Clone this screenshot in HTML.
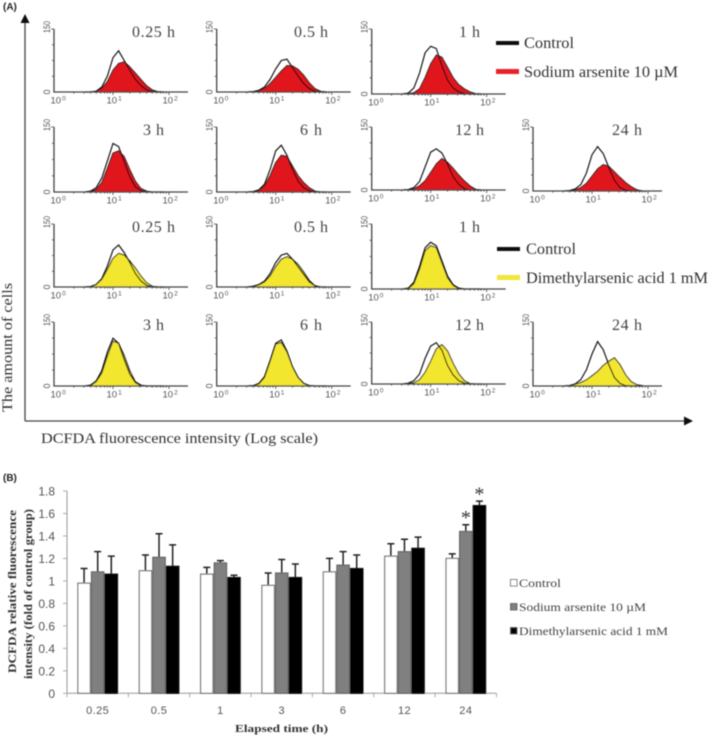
<!DOCTYPE html>
<html lang="en">
<head>
<meta charset="utf-8">
<title>DCFDA fluorescence figure</title>
<style>
html,body{margin:0;padding:0;background:#fff;width:709px;height:736px;overflow:hidden}
svg{display:block}
text{font-family:"Liberation Serif",serif;fill:#333}
.sans{font-family:"Liberation Sans",sans-serif}
</style>
</head>
<body>
<svg id="figure" xmlns="http://www.w3.org/2000/svg" width="709" height="736" viewBox="0 0 709 736">
<defs><filter id="soft" x="-5%" y="-5%" width="110%" height="110%"><feGaussianBlur stdDeviation="0.45"/></filter></defs>
<g id="root" filter="url(#soft)">
<text class="sans" x="3" y="10" font-size="10" font-weight="bold" style="fill:#222">(A)</text>
<line x1="25" y1="20" x2="25" y2="421" stroke="#444" stroke-width="1.3"/>
<polygon points="25,14 20.5,23 29.5,23" fill="#111"/>
<line x1="25" y1="421" x2="686" y2="421" stroke="#444" stroke-width="1.3"/>
<polygon points="693,421 684,416.5 684,425.5" fill="#111"/>
<text transform="translate(12,412) rotate(-90)" font-size="15" textLength="129" lengthAdjust="spacingAndGlyphs">The amount of cells</text>
<text x="41" y="443" font-size="15" textLength="277" lengthAdjust="spacingAndGlyphs">DCFDA fluorescence intensity (Log scale)</text>

<rect x="496" y="41" width="23" height="4" fill="#111"/>
<text x="524" y="48" font-size="16" textLength="50" lengthAdjust="spacingAndGlyphs">Control</text>
<rect x="496" y="69" width="23" height="5" fill="#e8202a"/>
<text x="524" y="77" font-size="16" textLength="154" lengthAdjust="spacingAndGlyphs">Sodium arsenite 10 µM</text>
<rect x="497" y="247" width="23" height="4" fill="#111"/>
<text x="526" y="254" font-size="16" textLength="50" lengthAdjust="spacingAndGlyphs">Control</text>
<rect x="497" y="275" width="23" height="5" fill="#f2e53a"/>
<text x="526" y="283" font-size="16" textLength="182" lengthAdjust="spacingAndGlyphs">Dimethylarsenic acid 1 mM</text>

<g id="histograms"></g>

<text class="sans" x="3" y="481" font-size="10" font-weight="bold" style="fill:#222">(B)</text>
<g id="bars"></g>
</g>
</svg>
<script>
// Histogram data: cell counts at each log10 intensity bin
const logBins = [0.5,0.6,0.7,0.8,0.9,1.0,1.1,1.2,1.3,1.4,1.5,1.6,1.7,1.8,1.9];
const panelTimes = ['0.25 h','0.5 h','1 h','3 h','6 h','12 h','24 h','0.25 h','0.5 h','1 h','3 h','6 h','12 h','24 h'];
const controlCounts = [
  [0,0,2,12,38,82,98,75,52,30,15,5,1,0,0],
  [0,1,4,12,30,55,75,78,58,38,20,8,2,0,0],
  [0,2,14,48,95,110,105,65,32,14,5,1,0,0,0],
  [0,2,10,32,72,112,105,70,35,12,3,0,0,0,0],
  [0,1,5,18,52,95,108,85,52,25,10,3,0,0,0],
  [0,1,6,20,55,90,98,88,62,32,14,3,0,0,0],
  [0,1,5,15,42,85,104,88,55,25,8,2,0,0,0],
  [0,1,6,20,50,88,100,82,58,32,14,4,0,0,0],
  [0,2,6,14,32,58,76,80,66,48,30,12,3,0,0],
  [0,2,16,52,95,108,100,65,30,10,2,0,0,0,0],
  [0,2,12,36,80,112,100,62,28,8,1,0,0,0,0],
  [0,1,6,22,60,100,108,82,45,20,6,1,0,0,0],
  [0,2,8,24,62,92,100,82,45,22,8,2,0,0,0],
  [0,1,5,15,38,75,104,85,50,20,6,1,0,0,0]
];
const treatedCounts = [
  [0,0,2,9,25,52,68,72,60,45,30,15,5,1,0],
  [0,1,3,9,20,35,50,63,62,54,40,22,8,2,0],
  [0,1,3,12,38,70,90,85,62,38,22,12,5,1,0],
  [0,1,6,22,55,90,95,82,52,25,8,2,0,0,0],
  [0,1,4,14,38,68,85,82,60,38,22,10,2,0,0],
  [0,1,3,10,22,42,62,75,66,52,36,22,10,2,0],
  [0,1,3,8,18,35,52,62,58,45,32,20,10,3,0],
  [0,1,6,18,42,68,80,76,62,45,26,10,2,0,0],
  [0,2,5,12,26,48,66,72,66,54,36,16,3,0,0],
  [0,1,12,45,88,100,95,60,26,8,1,0,0,0,0],
  [0,1,10,30,70,105,100,72,36,10,2,0,0,0,0],
  [0,1,5,20,58,98,102,80,45,20,6,1,0,0,0],
  [0,1,3,10,28,55,85,95,80,50,25,8,1,0,0],
  [0,1,4,8,14,24,34,48,58,66,50,26,10,3,1]
];
const decadeTicks = [0,1,2];
const countTicks = [0,150];

// Bar chart data
const timeCategories = ['0.25','0.5','1','3','6','12','24'];
const controlMeans = [0.98,1.09,1.06,0.96,1.08,1.22,1.20];
const arseniteMeans = [1.08,1.21,1.16,1.07,1.14,1.26,1.44];
const dmaMeans = [1.06,1.13,1.03,1.03,1.11,1.29,1.67];
const controlErrors = [0.13,0.14,0.06,0.11,0.12,0.11,0.04];
const arseniteErrors = [0.18,0.21,0.02,0.12,0.12,0.11,0.06];
const dmaErrors = [0.16,0.19,0.02,0.12,0.12,0.10,0.04];
const yTickLabels = ['0','0.2','0.4','0.6','0.8','1','1.2','1.4','1.6','1.8'];
const significant = [[6,1],[6,2]];

const NS = 'http://www.w3.org/2000/svg';
function mk(parent, tag, attrs, txt) {
  const e = document.createElementNS(NS, tag);
  for (const k in attrs) e.setAttribute(k, attrs[k]);
  if (txt !== undefined) e.textContent = txt;
  parent.appendChild(e);
  return e;
}

// --- Histogram layout ---
const gridX = [54, 216.7, 371.7, 533];
const cells = [
  {c:0,base:92,top:29,lx:132,lw:43,ly:37},{c:1,base:92,top:29,lx:294,lw:34,ly:37},{c:2,base:94,top:29,lx:459,lw:21,ly:37},
  {c:0,base:192,top:127,lx:143,lw:21,ly:135},{c:1,base:192,top:127,lx:300,lw:22,ly:135},{c:2,base:190,top:127,lx:455,lw:29,ly:135},{c:3,base:191,top:127,lx:612,lw:30,ly:135},
  {c:0,base:287,top:224,lx:132,lw:43,ly:232},{c:1,base:287,top:224,lx:294,lw:34,ly:232},{c:2,base:289,top:224,lx:459,lw:21,ly:232},
  {c:0,base:386,top:322,lx:143,lw:21,ly:330},{c:1,base:386,top:322,lx:300,lw:22,ly:330},{c:2,base:384,top:322,lx:455,lw:29,ly:330},{c:3,base:386,top:322,lx:612,lw:30,ly:330}
];
const histRoot = document.getElementById('histograms');
panelTimes.forEach(function (time, i) {
  const cell = cells[i];
  const x0 = gridX[cell.c];
  const group = i < 7 ? 'arsenite' : 'dma';
  const fillColor = i < 7 ? '#e0121c' : '#f3e62f';
  const sx = function (logV) { return x0 + 3 + logV * 56; };
  const sy = function (count) { return cell.base - count * (cell.base - cell.top) / 150; };
  const g = mk(histRoot, 'g', {});
  
  

  const treatedPts = treatedCounts[i].map(function (v, j) { return sx(logBins[j]).toFixed(1) + ',' + sy(v).toFixed(1); });
  const area = mk(g, 'polygon', {
    points: sx(logBins[0]).toFixed(1) + ',' + cell.base + ' ' + treatedPts.join(' ') + ' ' + sx(logBins[logBins.length - 1]).toFixed(1) + ',' + cell.base,
    fill: fillColor, stroke: '#222', 'stroke-width': 1
  });
  
  
  const ctlPts = controlCounts[i].map(function (v, j) { return sx(logBins[j]).toFixed(1) + ',' + sy(v).toFixed(1); });
  const ctl = mk(g, 'polyline', { points: ctlPts.join(' '), fill: 'none', stroke: '#111', 'stroke-width': 1.15 });
  
  

  // axes
  const right = x0 + (cell.c === 3 ? 129 : 134);
  mk(g, 'path', { d: 'M' + x0 + ' ' + cell.top + 'V' + cell.base + 'H' + right, fill: 'none', stroke: '#444', 'stroke-width': 1.3 });
  let ticks = '';
  for (let k = 1; k <= 3; k++) {
    const ty = cell.top + (cell.base - cell.top) * k / 4;
    ticks += 'M' + x0 + ' ' + ty.toFixed(1) + 'h-2';
  }
  ticks += 'M' + x0 + ' ' + cell.top + 'h-3';
  const minors = [0.3, 0.48, 0.6, 0.7, 0.78, 0.85, 0.9, 0.95, 1];
  for (let d = 0; d < 2; d++) minors.forEach(function (m) {
    ticks += 'M' + sx(d + m).toFixed(1) + ' ' + cell.base + 'v' + (m === 1 ? 3 : 1.6);
  });
  mk(g, 'path', { d: ticks, stroke: '#444', 'stroke-width': 0.8, fill: 'none' });

  decadeTicks.forEach(function (d) {
    const t = mk(g, 'text', { class: 'sans', x: sx(d) - 6.5, y: cell.base + 11.5, 'font-size': 9.5, style: 'fill:#555' });
    
    
    t.textContent = '10';
    mk(t, 'tspan', { dx: 1, dy: -3, 'font-size': 6.5 }, String(d));
  });
  countTicks.forEach(function (c) {
    const t = mk(g, 'text', { class: 'sans', transform: 'translate(' + (x0 - 4) + ',' + (c ? sy(c) - 2 : sy(c)) + ') rotate(-90)', 'text-anchor': 'middle', 'font-size': 9, style: 'fill:#555' }, String(c));
    if (c) { t.setAttribute('textLength', 12); t.setAttribute('lengthAdjust', 'spacingAndGlyphs'); }
    
    
  });
  const title = mk(g, 'text', { x: cell.lx, y: cell.ly, 'font-size': 16, textLength: cell.lw, lengthAdjust: 'spacing', style: 'fill:#444' }, time);
  
  
});

// --- Bar chart ---
const barRoot = document.getElementById('bars');
const plotLeft = 67, plotRight = 496.5, plotBase = 693.3, unitPx = 112.4;
const bandW = (plotRight - plotLeft) / timeCategories.length;
const barW = 13.6;
const yScale = function (v) { return plotBase - v * unitPx; };
const xBand = function (i) { return plotLeft + bandW * i; };
const seriesList = [
  { name: 'control', means: controlMeans, errs: controlErrors, fill: '#fff', stroke: '#777' },
  { name: 'arsenite', means: arseniteMeans, errs: arseniteErrors, fill: '#808080', stroke: '#666' },
  { name: 'dma', means: dmaMeans, errs: dmaErrors, fill: '#000', stroke: '#111' }
];
// y axis
const yAxis = mk(barRoot, 'line', { x1: plotLeft, y1: yScale(1.8), x2: plotLeft, y2: plotBase, stroke: '#999', 'stroke-width': 1 });


yTickLabels.forEach(function (lab) {
  const v = parseFloat(lab);
  mk(barRoot, 'line', { x1: plotLeft - 4, x2: plotLeft, y1: yScale(v), y2: yScale(v), stroke: '#999', 'stroke-width': 0.8 });
  const t = mk(barRoot, 'text', { class: 'sans', x: 55, y: yScale(v) + 4.5, 'text-anchor': 'end', 'font-size': 12, style: 'fill:#555' }, lab);
  
  
});
// x axis
const xAxis = mk(barRoot, 'line', { x1: plotLeft, y1: plotBase, x2: plotRight, y2: plotBase, stroke: '#999', 'stroke-width': 1 });


for (let i = 0; i <= timeCategories.length; i++) {
  mk(barRoot, 'line', { x1: xBand(i), x2: xBand(i), y1: plotBase, y2: plotBase + 4, stroke: '#999', 'stroke-width': 0.8 });
}
timeCategories.forEach(function (cat, i) {
  const cx = xBand(i) + bandW / 2;
  const t = mk(barRoot, 'text', { class: 'sans', x: cx, y: 714, 'text-anchor': 'middle', 'font-size': 11, 'letter-spacing': 0.4, style: 'fill:#555' }, cat);
  
  
  seriesList.forEach(function (s, j) {
    const bx = cx - barW * 1.5 + j * barW;
    const top = yScale(s.means[i]);
    const errTop = yScale(s.means[i] + s.errs[i]);
    const err = mk(barRoot, 'path', { d: 'M' + (bx + barW / 2) + ' ' + top + 'V' + errTop + 'm-3.5 0h7', stroke: '#222', 'stroke-width': 1.5, fill: 'none' });
    
    
    const bar = mk(barRoot, 'rect', { x: bx + 0.6, y: top, width: barW - 1.2, height: plotBase - top, fill: s.fill, stroke: s.stroke, 'stroke-width': 1.2 });
    
    
  });
});
significant.forEach(function (p) {
  const s = seriesList[p[1]];
  const cx = xBand(p[0]) + bandW / 2 - barW * 1.5 + p[1] * barW + barW / 2;
  const y = yScale(s.means[p[0]] + s.errs[p[0]]);
  const star = mk(barRoot, 'text', { x: cx, y: y - 0.5, 'text-anchor': 'middle', 'font-size': 20, style: 'fill:#333' }, '*');
  
  
});
// titles
const t1 = mk(barRoot, 'text', { transform: 'translate(16,673) rotate(-90)', 'font-size': 11.5, 'font-weight': 'bold', textLength: 163, lengthAdjust: 'spacingAndGlyphs' }, 'DCFDA relative fluorescence');


const t2 = mk(barRoot, 'text', { transform: 'translate(32,679) rotate(-90)', 'font-size': 11.5, 'font-weight': 'bold', textLength: 170, lengthAdjust: 'spacingAndGlyphs' }, 'intensity (fold of control group)');


const t3 = mk(barRoot, 'text', { x: 235, y: 732, 'font-size': 10.5, 'font-weight': 'bold', textLength: 93, lengthAdjust: 'spacingAndGlyphs' }, 'Elapsed time (h)');


// legend
const legendLabels = ['Control', 'Sodium arsenite 10 µM', 'Dimethylarsenic acid 1 mM'];
const legendWidths = [42, 127, 149];
legendLabels.forEach(function (lab, i) {
  const y = 583 + i * 24;
  const sw = mk(barRoot, 'rect', { x: 510.5, y: y - 3.5, width: 6.5, height: 6.5, fill: seriesList[i].fill, stroke: '#555', 'stroke-width': 0.8 });
  
  
  const t = mk(barRoot, 'text', { x: 519, y: y + 4, 'font-size': 12, textLength: legendWidths[i], lengthAdjust: 'spacingAndGlyphs', style: 'fill:#444' }, lab);
  
  
});
</script>
</body>
</html>
